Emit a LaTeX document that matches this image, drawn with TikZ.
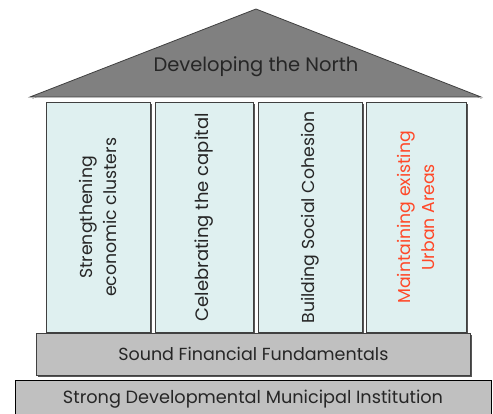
\documentclass[tikz,border=0pt]{standalone}
\usepackage{fontspec}
\setmainfont{Poppins}
\definecolor{roofgray}{HTML}{808080}
\definecolor{boxgray}{HTML}{C0C0C0}
\definecolor{colfill}{HTML}{DFF0F0}
\definecolor{edge}{HTML}{404040}
\definecolor{shade}{HTML}{555555}
\definecolor{redtext}{RGB}{255,72,40}
\tikzset{
  pillar/.style={draw=edge, line width=0.8pt, fill=colfill},
  slab/.style={draw=edge, line width=0.8pt, fill=boxgray},
  shadowfill/.style={fill=shade, draw=none},
  label/.style={font=\fontsize{17.5}{22}\selectfont, text=black!85, inner sep=0pt},
  vlabel/.style={font=\fontsize{17.3}{24}\selectfont, text=black!85, inner sep=0pt, rotate=90, align=center},
}
\begin{document}
\begin{tikzpicture}[x=1pt,y=-1pt]
\useasboundingbox (0,0) rectangle (493,414);
\clip (0,0) rectangle (493,414);
% roof
\fill[shade] (32,99) -- (256,11) -- (482,99) -- cycle;
\draw[draw=edge, line width=0.8pt, fill=roofgray] (30,97) -- (256,9) -- (481,97) -- cycle;
\node[label, font=\fontsize{19.5}{24}\selectfont] (roof) at (256,67) {Developing the North};
% pillars
\foreach \a/\b/\n in {46/150/c1,155/253/c2,258/362/c3,366/466/c4}{
  \fill[shadowfill] (\a+2,104) rectangle (\b+2,334);
  \node[pillar, minimum width={(\b-\a)*1pt}, minimum height=230pt, inner sep=0pt, anchor=north west] (\n) at (\a,102) {};
}
\node[vlabel] (t1) at (c1.center) {Strengthening\\economic clusters};
\node[vlabel, font=\fontsize{18}{24}\selectfont] (t2) at (c2.center) {Celebrating the capital};
\node[vlabel] (t3) at (c3.center) {Building Social Cohesion};
\node[vlabel, text=redtext] (t4) at (c4.center) {Maintaining existing\\Urban Areas};
% sound financial
\fill[shadowfill] (38,335) rectangle (472,377);
\node[slab, minimum width=434pt, minimum height=42pt, inner sep=0pt, anchor=north west] (sf) at (36,333) {};
\node[label] (sft) at (sf.center) {Sound Financial Fundamentals};
% strong
\node[draw=black, line width=0.8pt, fill=boxgray, minimum width=476pt, minimum height=40pt, inner sep=0pt, anchor=north west] (sd) at (15,380) {};
\node[label, font=\fontsize{17.7}{22}\selectfont] (sdt) at (253,399) {Strong Developmental Municipal Institution};
\end{tikzpicture}
\end{document}
